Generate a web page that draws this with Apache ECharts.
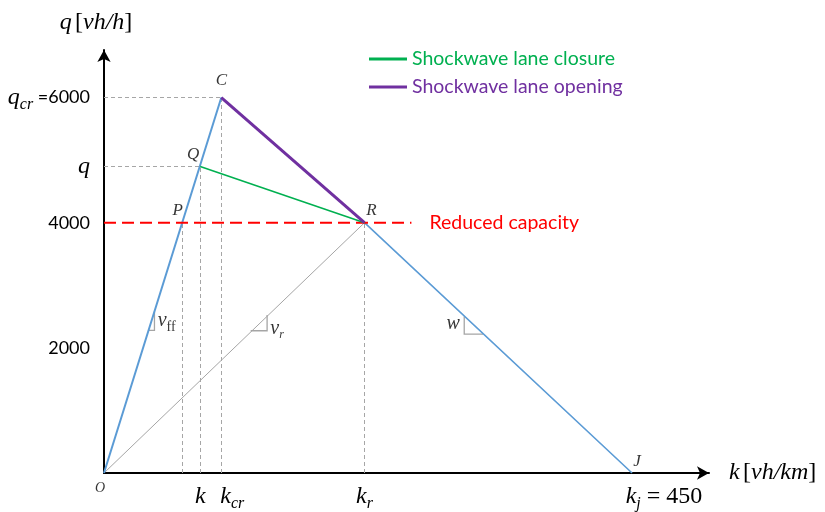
<!DOCTYPE html>
<html>
<head>
<meta charset="utf-8">
<script src="https://cdn.jsdelivr.net/npm/echarts@6/dist/echarts.min.js"></script>
<style>html,body{margin:0;padding:0;background:#fff}#c{width:825px;height:512px}</style>
</head>
<body>
<div id="c"></div>
<script>
// ---- data ----
const pointNames = ['O', 'P', 'Q', 'C', 'R', 'J'];
const pointK = [0, 67, 82, 100, 222, 450];        // density k [vh/km]
const pointQ = [0, 4000, 4900, 6000, 4000, 0];    // flow q [vh/h]
const yTickValues = [2000, 4000, 4900, 6000];
const yTickLabels = ['2000', '4000', 'q', 'qcr'];
const xTickValues = [82, 100, 222, 450];
const xTickLabels = ['k', 'kcr', 'kr', 'kj'];
const reducedCapacityQ = 4000;
const reducedCapacityEndK = 262;
const legendNames = ['Shockwave lane closure', 'Shockwave lane opening'];
const slopeVff = [[38, 2280], [43, 2280], [43, 2580]];
const slopeVr = [[125, 2273], [139, 2273], [139, 2527]];
const slopeW = [[307, 2500], [307, 2220], [323, 2220]];
const slopeLabelPos = [[44, 2430], [140, 2300], [305, 2380]];
const slopeLabelText = ['vff', 'vr', 'w'];

// ---- helpers ----
const P = {};
pointNames.forEach((n, i) => { P[n] = [pointK[i], pointQ[i]]; });
const blue = '#5B9BD5', purple = '#7030A0', green = '#00B050', red = '#FF0000', grey = '#A6A6A6';
const serif = 'Liberation Serif';
const sans = 'Lato';

const guideSegs = [];
['P', 'Q', 'C', 'R'].forEach(n => guideSegs.push({coords: [[P[n][0], 0], P[n]]}));
['Q', 'C'].forEach(n => guideSegs.push({coords: [[0, P[n][1]], P[n]]}));

const labelOffsets = {O: [-4, 15], P: [-5, -12], Q: [-7, -12], C: [0, -17], R: [7, -12], J: [5, -11]};

const mathRich = {
  m: {fontFamily: serif, fontStyle: 'italic', fontSize: 24, color: '#000', lineHeight: 24},
  s: {fontFamily: serif, fontStyle: 'italic', fontSize: 16, color: '#000', lineHeight: 16, verticalAlign: 'bottom', padding: [0, 0, -3, 0]},
  n: {fontFamily: sans, fontSize: 18, color: '#000', lineHeight: 24},
  nm: {fontFamily: serif, fontSize: 24, color: '#000', lineHeight: 24},
  sp1: {width: 22}, sp2: {width: 64}
};

const chart = echarts.init(document.getElementById('c'), null, {renderer: 'canvas'});
chart.setOption({
  animation: false,
  backgroundColor: '#fff',
  grid: {left: 104, right: 116, top: 50, bottom: 35},
  legend: {
    orient: 'vertical', left: 364, top: 44,
    itemWidth: 38, itemHeight: 3, itemGap: 8, icon: 'rect',
    textStyle: {fontFamily: sans, fontSize: 19.5, lineHeight: 19},
    data: [
      {name: legendNames[0], textStyle: {color: green}},
      {name: legendNames[1], textStyle: {color: purple}}
    ]
  },
  xAxis: {
    type: 'value', min: 0, max: 515.6,
    name: '{m|k} {nm|[}{m|vh/km}{nm|]}',
    nameLocation: 'end', nameGap: 20,
    nameTextStyle: {rich: mathRich, align: 'left', verticalAlign: 'middle'},
    axisLine: {lineStyle: {color: '#000', width: 2}, symbol: ['none', 'arrow'], symbolSize: [10, 12]},
    axisTick: {show: false},
    splitLine: {show: false},
    axisLabel: {
      customValues: xTickValues, margin: 12,
      formatter: v => {
        const t = xTickLabels[xTickValues.indexOf(v)];
        if (t === 'k') return '{m|k}';
        if (t === 'kcr') return '{sp1| }{m|k}{s|cr}';
        if (t === 'kr') return '{m|k}{s|r}';
        return '{sp2| }{m|k}{s|j}{nm| = 450}';
      },
      rich: mathRich
    }
  },
  yAxis: {
    type: 'value', min: 0, max: 6760,
    name: '{m|q} {nm|[}{m|vh/h}{nm|]}',
    nameLocation: 'end', nameGap: 15,
    nameTextStyle: {rich: mathRich, align: 'center', padding: [0, 16, 0, 0]},
    axisLine: {lineStyle: {color: '#000', width: 2}, symbol: ['none', 'arrow'], symbolSize: [10, 12]},
    axisTick: {show: false},
    splitLine: {show: false},
    axisLabel: {
      customValues: yTickValues, margin: 14,
      formatter: v => {
        const t = yTickLabels[yTickValues.indexOf(v)];
        if (t === 'q') return '{m|q}';
        if (t === 'qcr') return '{m|q}{s|cr}{n| =6000}';
        return '{n|' + t + '}';
      },
      rich: mathRich
    }
  },
  series: [
    {
      type: 'lines', coordinateSystem: 'cartesian2d', z: 1, silent: true,
      lineStyle: {color: grey, width: 1, type: [4, 3], opacity: 1},
      data: guideSegs
    },
    {
      type: 'lines', coordinateSystem: 'cartesian2d', z: 2, silent: true, polyline: true,
      lineStyle: {color: '#A5A5A5', width: 1.3, opacity: 1},
      data: [{coords: slopeVff}, {coords: slopeVr}, {coords: slopeW}]
    },
    {
      type: 'line', z: 3, silent: true, symbol: 'none',
      lineStyle: {color: '#A5A5A5', width: 1},
      data: [P.O, P.R]
    },
    {
      type: 'line', z: 5, silent: true, symbol: 'none',
      lineStyle: {color: red, width: 2, type: [12, 6]},
      data: [[0, reducedCapacityQ], [reducedCapacityEndK, reducedCapacityQ]],
      endLabel: {show: true, formatter: 'Reduced capacity', color: red, fontFamily: sans, fontSize: 19.5, distance: 18}
    },
    {
      type: 'line', z: 4, silent: true, symbol: 'none',
      lineStyle: {color: blue, width: 2},
      data: [P.O, P.C]
    },
    {
      type: 'line', z: 4, silent: true, symbol: 'none',
      lineStyle: {color: blue, width: 1.6},
      data: [P.C, P.R, P.J]
    },
    {
      name: legendNames[0], type: 'line', z: 6, silent: true, symbol: 'none',
      color: green, lineStyle: {color: green, width: 1.6},
      data: [P.Q, P.R]
    },
    {
      name: legendNames[1], type: 'line', z: 7, silent: true, symbol: 'none',
      color: purple, lineStyle: {color: purple, width: 3},
      data: [P.C, P.R]
    },
    {
      type: 'scatter', z: 10, silent: true, symbolSize: 0,
      data: pointNames.map(n => ({
        value: P[n],
        label: {
          show: true, position: 'inside', offset: labelOffsets[n], formatter: n,
          fontFamily: serif, fontStyle: 'italic', fontSize: n === 'O' ? 14 : 17, color: '#000'
        }
      }))
    },
    {
      type: 'scatter', z: 10, silent: true, symbolSize: 0,
      data: slopeLabelPos.map((p, i) => ({
        value: p,
        label: {
          show: true, position: slopeLabelText[i] === 'w' ? 'left' : 'right', distance: 2,
          formatter: slopeLabelText[i] === 'vff' ? '{m|v}{u|ff}' : (slopeLabelText[i] === 'vr' ? '{m|v}{s|r}' : '{m|w}'),
          rich: {
            m: {fontFamily: serif, fontStyle: 'italic', fontSize: 20, color: '#000', lineHeight: 20},
            s: {fontFamily: serif, fontStyle: 'italic', fontSize: 12, color: '#000', lineHeight: 12, verticalAlign: 'bottom', padding: [0, 0, -2, 0]},
            u: {fontFamily: serif, fontSize: 14, color: '#000', lineHeight: 14, verticalAlign: 'bottom', padding: [0, 0, -3, 0]}
          }
        }
      }))
    }
  ]
});
</script>
</body>
</html>
